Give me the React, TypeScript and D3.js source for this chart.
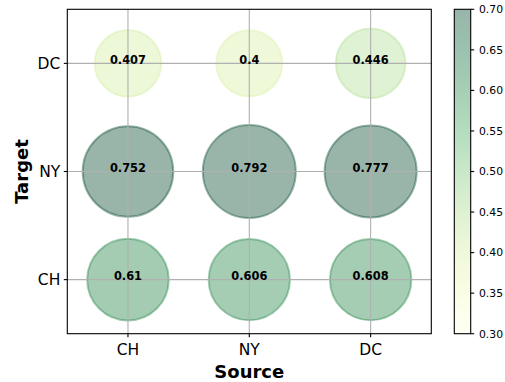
import React from "react";
import * as d3 from "d3";

const sources = ["CH", "NY", "DC"];
const targets = ["CH", "NY", "DC"];
// values[targetIndex][sourceIndex]
const values = [
  [0.61, 0.606, 0.608],
  [0.752, 0.792, 0.777],
  [0.407, 0.4, 0.446],
];
const cbTicks = [0.3, 0.35, 0.4, 0.45, 0.5, 0.55, 0.6, 0.65, 0.7];

const width = 505;
const height = 382;
const plot = { left: 67.3, right: 431.3, top: 9.3, bottom: 333.7 };
const cb = { left: 454.3, right: 470.7 };
const font = "DejaVu Sans, sans-serif";

const App = () => {
  const x = d3.scaleLinear().domain([-0.5, 2.5]).range([plot.left, plot.right]);
  const y = d3.scaleLinear().domain([-0.5, 2.5]).range([plot.bottom, plot.top]);
  const r = d3.scaleSqrt().domain([0, 1]).range([0, 52.2]);
  const color = d3.scaleSequential(d3.interpolateYlGn).domain([0.3, 0.7]).clamp(true);
  const cbY = d3.scaleLinear().domain([0.3, 0.7]).range([plot.bottom, plot.top]);

  const points = values.flatMap((row, ti) =>
    row.map((v, si) => ({ v, si, ti }))
  );
  const stops = d3.range(0, 1.0001, 0.05);

  return (
    <svg width={width} height={height} style={{ position: "absolute", left: 0, top: 0 }}>
      <defs>
        <linearGradient id="cbgrad" x1="0" y1="1" x2="0" y2="0">
          {stops.map((t) => (
            <stop key={t} offset={t} stopColor={color(0.3 + t * 0.4)} stopOpacity={0.4} />
          ))}
        </linearGradient>
        <clipPath id="plotclip">
          <rect x={plot.left} y={plot.top} width={plot.right - plot.left} height={plot.bottom - plot.top} />
        </clipPath>
      </defs>
      <rect width={width} height={height} fill="white" />

      {/* bubbles */}
      <g clipPath="url(#plotclip)">
        {points.map((p) => (
          <circle
            key={`c${p.ti}-${p.si}`}
            cx={x(p.si)}
            cy={y(p.ti)}
            r={r(p.v)}
            fill={color(p.v)}
            fillOpacity={0.4}
            stroke={color(p.v)}
            strokeOpacity={0.4}
            strokeWidth={2}
          />
        ))}
      </g>

      {/* grid, drawn over the bubbles like matplotlib does */}
      {sources.map((s, i) => (
        <line key={"gx" + s} x1={x(i)} x2={x(i)} y1={plot.top} y2={plot.bottom} stroke="#b0b0b0" strokeWidth={1.1} />
      ))}
      {targets.map((t, i) => (
        <line key={"gy" + t} x1={plot.left} x2={plot.right} y1={y(i)} y2={y(i)} stroke="#b0b0b0" strokeWidth={1.1} />
      ))}

      {points.map((p) => (
        <text
          key={`t${p.ti}-${p.si}`}
          x={x(p.si)}
          y={y(p.ti) + 0.5}
          textAnchor="middle"
          fontFamily={font}
          fontWeight="bold"
          fontSize={11.4}
        >
          {String(p.v)}
        </text>
      ))}

      {/* frame */}
      <rect
        x={plot.left}
        y={plot.top}
        width={plot.right - plot.left}
        height={plot.bottom - plot.top}
        fill="none"
        stroke="black"
        strokeWidth={1.1}
      />

      {/* x ticks */}
      {sources.map((s, i) => (
        <g key={"xt" + s}>
          <line x1={x(i)} x2={x(i)} y1={plot.bottom} y2={plot.bottom + 3.5} stroke="black" strokeWidth={1.1} />
          <text x={x(i)} y={355} textAnchor="middle" fontFamily={font} fontSize={15.5}>
            {s}
          </text>
        </g>
      ))}
      {/* y ticks */}
      {targets.map((t, i) => (
        <g key={"yt" + t}>
          <line x1={plot.left} x2={plot.left - 3.5} y1={y(i)} y2={y(i)} stroke="black" strokeWidth={1.1} />
          <text x={plot.left - 7} y={y(i)} dy="0.36em" textAnchor="end" fontFamily={font} fontSize={15.5}>
            {t}
          </text>
        </g>
      ))}

      <text x={(plot.left + plot.right) / 2} y={377.5} textAnchor="middle" fontFamily={font} fontWeight="bold" fontSize={18}>
        Source
      </text>
      <text
        transform={`translate(27.5,${(plot.top + plot.bottom) / 2}) rotate(-90)`}
        textAnchor="middle"
        fontFamily={font}
        fontWeight="bold"
        fontSize={18}
      >
        Target
      </text>

      {/* colorbar */}
      <rect
        x={cb.left}
        y={plot.top}
        width={cb.right - cb.left}
        height={plot.bottom - plot.top}
        fill="url(#cbgrad)"
        stroke="black"
        strokeWidth={1.1}
      />
      {cbTicks.map((t) => (
        <g key={"cb" + t}>
          <line x1={cb.right} x2={cb.right + 3.5} y1={cbY(t)} y2={cbY(t)} stroke="black" strokeWidth={1.1} />
          <text x={479} y={cbY(t)} dy="0.36em" fontFamily={font} fontSize={10.8}>
            {t.toFixed(2)}
          </text>
        </g>
      ))}
    </svg>
  );
};

export default App;
